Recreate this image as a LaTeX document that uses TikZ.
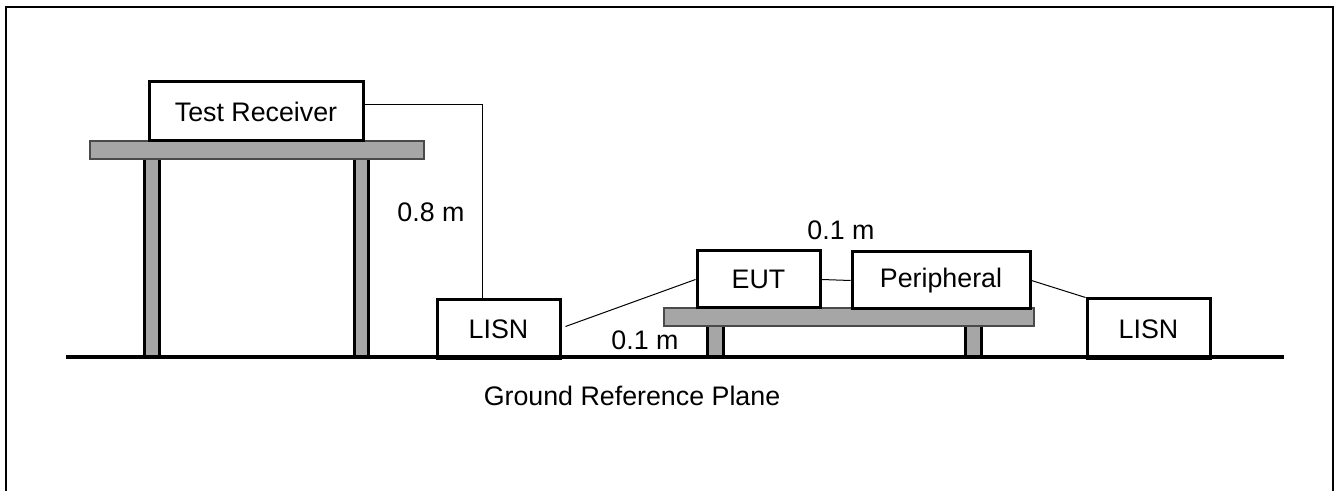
\documentclass[tikz,border=0pt]{standalone}
\usepackage{fontspec}
\setmainfont{Liberation Sans}
\usepackage{xcolor}
\definecolor{slabgray}{HTML}{A6A6A6}
\definecolor{slabedge}{HTML}{4A4A4A}

\begin{document}
\begin{tikzpicture}[
  x=0.5pt, y=-0.5pt,
  font=\fontsize{13.4}{15}\selectfont,
  unit/.style={draw, line width=1.5pt, fill=white, inner sep=0pt},
  slab/.style={draw=slabedge, fill=slabgray, line width=1pt},
  leg/.style={draw, fill=slabgray, line width=1.5pt},
  cable/.style={line width=0.5pt},
  lbl/.style={inner sep=0pt}]

\useasboundingbox (0,0) rectangle (1338,491);
\draw[line width=1pt] (6,500) -- (6,7) -- (1333,7) -- (1333,500);

% receiver table
\draw[leg] (144,159) rectangle (159,357);
\draw[leg] (354,159) rectangle (368,357);
\draw[slab] (90,141) rectangle (424,159);

% EUT table
\draw[leg] (707,326) rectangle (723,357);
\draw[leg] (965,326) rectangle (981,357);
\draw[slab] (664,308) rectangle (1034,326);

\node[unit, minimum width=107pt, minimum height=29.5pt] (rx) at (256,111.5) {Test Receiver};
\node[unit, minimum width=61.5pt, minimum height=29.5pt] (lisnA) at (498.5,329.5) {LISN};
\node[unit, minimum width=61.5pt, minimum height=28.5pt] (eut) at (758.5,279.5) {EUT};
\node[unit, minimum width=89pt, minimum height=28.5pt] (per) at (941,280.5) {Peripheral};
\node[unit, minimum width=61.5pt, minimum height=30pt] (lisnB) at (1148.5,329) {LISN};

\draw[line width=2pt] (66,357) -- (1284,357);

% cables
\coordinate (drop) at (482,105);
\draw[cable] (rx.east |- drop) -- (drop) -- (drop |- lisnA.north);
\draw[cable] ([xshift=2pt,yshift=1.5pt]lisnA.east) -- (eut.west);
\draw[cable] (eut.east) -- (per.west);
\draw[cable] (per.east) -- (lisnB.north west);

\node[lbl] (hgt) at (431,212) {0.8 m};
\node[lbl] (gapA) at (645,340) {0.1 m};
\node[lbl] (gapB) at (841,230) {0.1 m};
\node[lbl] (grp) at (632,396) {Ground Reference Plane};
\end{tikzpicture}
\end{document}
